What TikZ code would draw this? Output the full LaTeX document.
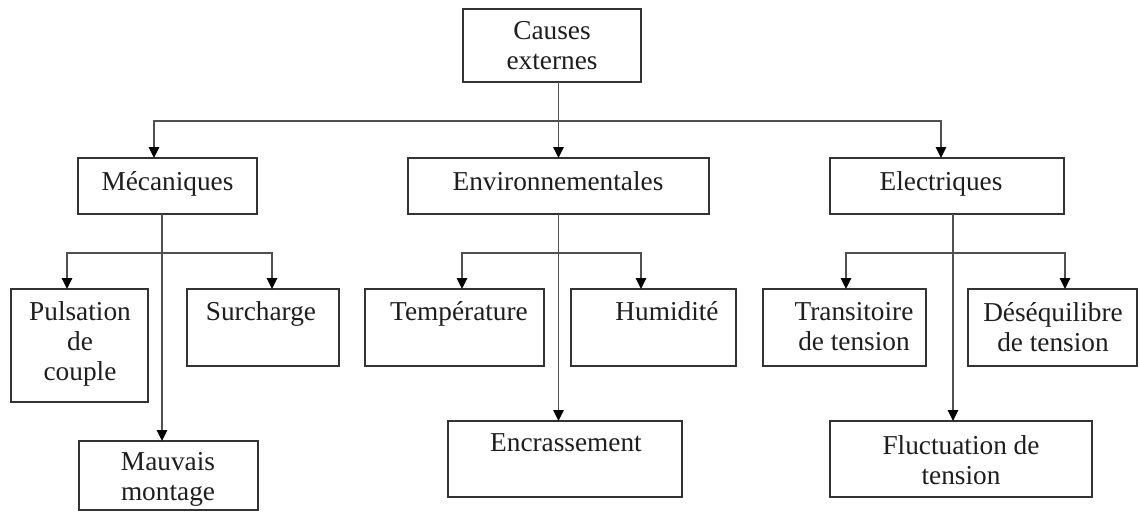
\documentclass[tikz,border=0pt]{standalone}
\usepackage{fontspec}
\setmainfont{Liberation Serif}
\usetikzlibrary{arrows.meta}

\definecolor{trait}{HTML}{333333}
\definecolor{liaison}{HTML}{505050}
\definecolor{encre}{HTML}{1E1E1E}

% box from its left, top, right and bottom edges
\newcommand\caisse[5]{%
  \node[boite, minimum width={(#4-#2)*1pt}, minimum height={(#5-#3)*1pt}]
    (#1) at ({(#2+#4)/2},{(#3+#5)/2}) {};}

\begin{document}
\begin{tikzpicture}[x=1pt,y=-1pt,
  boite/.style={draw=trait, line width=1.9pt, inner sep=0pt, outer sep=0pt},
  lib/.style={text=encre, font=\fontsize{27.3}{30}\selectfont, align=center, inner sep=0pt},
  fil/.style={draw=liaison, line width=1.5pt},
  fleche/.style={fil, -{Triangle[length=11pt,width=10.5pt,color=black]}},
]
\fill[white] (0,0) rectangle (1140,512);
\useasboundingbox (0,0) rectangle (1140,512);

% boxes
\caisse{causes}{463}{9}{641}{82}
\caisse{meca}{78}{158}{257}{214}
\caisse{env}{408}{158}{709}{214}
\caisse{elec}{830}{158}{1064}{214}
\caisse{puls}{11}{289}{148}{402}
\caisse{surch}{187}{289}{339}{366}
\caisse{temp}{365}{289}{544}{366}
\caisse{humid}{571}{289}{736}{366}
\caisse{trans}{763}{289}{926}{366}
\caisse{deseq}{968}{289}{1137}{366}
\caisse{mauv}{79}{441}{258}{510}
\caisse{encr}{448}{421}{682}{497}
\caisse{fluct}{830}{421}{1092}{497}

% labels
\node[lib] (l-causes) at (552,46) {Causes\\externes};
\node[lib] (l-meca) at (167.5,184) {Mécaniques};
\node[lib] (l-env) at (558,181) {Environnementales};
\node[lib] (l-elec) at (941,184) {Electriques};
\node[lib] (l-puls) at (80,344) {Pulsation\\de\\couple};
\node[lib] (l-surch) at (261,314) {Surcharge};
\node[lib] (l-temp) at (459,314) {Température};
\node[lib] (l-humid) at (667,311) {Humidité};
\node[lib] (l-trans) at (854,327) {Transitoire\\de tension};
\node[lib] (l-deseq) at (1053,327) {Déséquilibre\\de tension};
\node[lib] (l-mauv) at (168,479) {Mauvais\\montage};
\node[lib] (l-encr) at (566,443) {Encrassement};
\node[lib] (l-fluct) at (961,460) {Fluctuation de\\tension};

% first level
\coordinate (j0) at (558.5,121);
\draw[fleche] (causes.south -| env.north) -- (env.north);
\draw[fleche] (j0) -| ([xshift=-13.5pt]meca.north);
\draw[fleche] (j0) -| ([xshift=-6pt]elec.north);

% mechanical causes
\coordinate (jm) at (162,253);
\draw[fleche] ([xshift=-5.5pt]meca.south) -- ([xshift=-5.5pt]meca.south |- mauv.north);
\draw[fleche] (jm) -| ([xshift=-12.5pt]puls.north);
\draw[fleche] (jm) -| ([xshift=9pt]surch.north);

% environmental causes
\coordinate (je) at (558.5,253);
\draw[fleche] (env.south) -- (env.south |- encr.north);
\draw[fleche] (je) -| ([xshift=7.5pt]temp.north);
\draw[fleche] (je) -| ([xshift=-12.5pt]humid.north);

% electrical causes
\coordinate (jl) at (953,253);
\draw[fleche] ([xshift=6pt]elec.south) -- ([xshift=6pt]elec.south |- fluct.north);
\draw[fleche] (jl) -| ([xshift=1.5pt]trans.north);
\draw[fleche] (jl) -| ([xshift=12.5pt]deseq.north);
\end{tikzpicture}
\end{document}
